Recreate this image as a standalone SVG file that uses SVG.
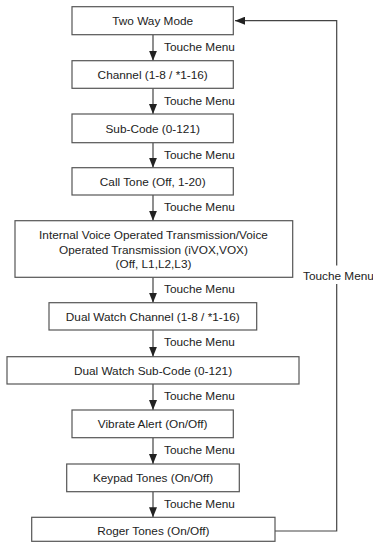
<svg xmlns="http://www.w3.org/2000/svg" width="373" height="543" viewBox="0 0 373 543">
<style>
.box{fill:#fff;stroke:#555;stroke-width:1.2}
.t{font-family:"Liberation Sans",Arial,sans-serif;font-size:11.8px;fill:#222;text-anchor:middle}
.l{font-family:"Liberation Sans",Arial,sans-serif;font-size:11.8px;fill:#222}
.c{fill:none;stroke:#444;stroke-width:1.2}
</style>
<defs>
<marker id="ah" markerWidth="10" markerHeight="8" refX="10" refY="4" orient="auto" markerUnits="userSpaceOnUse">
<path d="M0,0 L10,4 L0,8 Z" fill="#222"/>
</marker>
</defs>
<rect width="373" height="543" fill="#fff"/>
<g id="connectors">
<line class="c" x1="153" y1="34.7" x2="153" y2="60.7" marker-end="url(#ah)"/>
<line class="c" x1="153" y1="88.3" x2="153" y2="114" marker-end="url(#ah)"/>
<line class="c" x1="153" y1="142.7" x2="153" y2="167.7" marker-end="url(#ah)"/>
<line class="c" x1="153" y1="195" x2="153" y2="220.7" marker-end="url(#ah)"/>
<line class="c" x1="153" y1="277.3" x2="153" y2="302.7" marker-end="url(#ah)"/>
<line class="c" x1="153" y1="330" x2="153" y2="356.7" marker-end="url(#ah)"/>
<line class="c" x1="153" y1="384" x2="153" y2="410" marker-end="url(#ah)"/>
<line class="c" x1="153" y1="437.7" x2="153" y2="464" marker-end="url(#ah)"/>
<line class="c" x1="153" y1="491.7" x2="153" y2="517.3" marker-end="url(#ah)"/>
<polyline class="c" points="275,531 336.7,531 336.7,284"/>
<polyline class="c" points="336.7,265.5 336.7,20.7 235,20.7" marker-end="url(#ah)"/>
<text class="l" x="164" y="51">Touche Menu</text>
<text class="l" x="164" y="104.5">Touche Menu</text>
<text class="l" x="164" y="158.5">Touche Menu</text>
<text class="l" x="164" y="211">Touche Menu</text>
<text class="l" x="164" y="293.3">Touche Menu</text>
<text class="l" x="164" y="346">Touche Menu</text>
<text class="l" x="164" y="400">Touche Menu</text>
<text class="l" x="164" y="453.7">Touche Menu</text>
<text class="l" x="164" y="507.7">Touche Menu</text>
<text class="l" x="303" y="279.5">Touche Menu</text>
</g>
<g id="n1"><rect class="box" x="72" y="6.7" width="161.3" height="28"/><text class="t" x="152.7" y="24.9">Two Way Mode</text></g>
<g id="n2"><rect class="box" x="72" y="60.7" width="161.3" height="27.6"/><text class="t" x="152.7" y="78.7">Channel (1-8 / *1-16)</text></g>
<g id="n3"><rect class="box" x="72" y="114" width="161.3" height="28.7"/><text class="t" x="152.7" y="132.5">Sub-Code (0-121)</text></g>
<g id="n4"><rect class="box" x="72" y="167.7" width="161.3" height="27.3"/><text class="t" x="152.7" y="185.5">Call Tone (Off, 1-20)</text></g>
<g id="n5"><rect class="box" x="15" y="220.7" width="277.7" height="56.6"/>
<text class="t" x="153.5" y="239.3">Internal Voice Operated Transmission/Voice</text>
<text class="t" x="153.5" y="253.5">Operated Transmission (iVOX,VOX)</text>
<text class="t" x="153.5" y="267.7">(Off, L1,L2,L3)</text></g>
<g id="n6"><rect class="box" x="49" y="302.7" width="207.7" height="27.3"/><text class="t" x="152.8" y="320.5">Dual Watch Channel (1-8 / *1-16)</text></g>
<g id="n7"><rect class="box" x="7" y="356.7" width="292" height="27.3"/><text class="t" x="153" y="374.5">Dual Watch Sub-Code (0-121)</text></g>
<g id="n8"><rect class="box" x="72" y="410" width="161.3" height="27.7"/><text class="t" x="152.7" y="428">Vibrate Alert (On/Off)</text></g>
<g id="n9"><rect class="box" x="66.7" y="464" width="172.6" height="27.7"/><text class="t" x="153" y="482">Keypad Tones (On/Off)</text></g>
<g id="n10"><rect class="box" x="31.7" y="517.3" width="243.3" height="24"/><text class="t" x="153.3" y="535">Roger Tones (On/Off)</text></g>
</svg>
